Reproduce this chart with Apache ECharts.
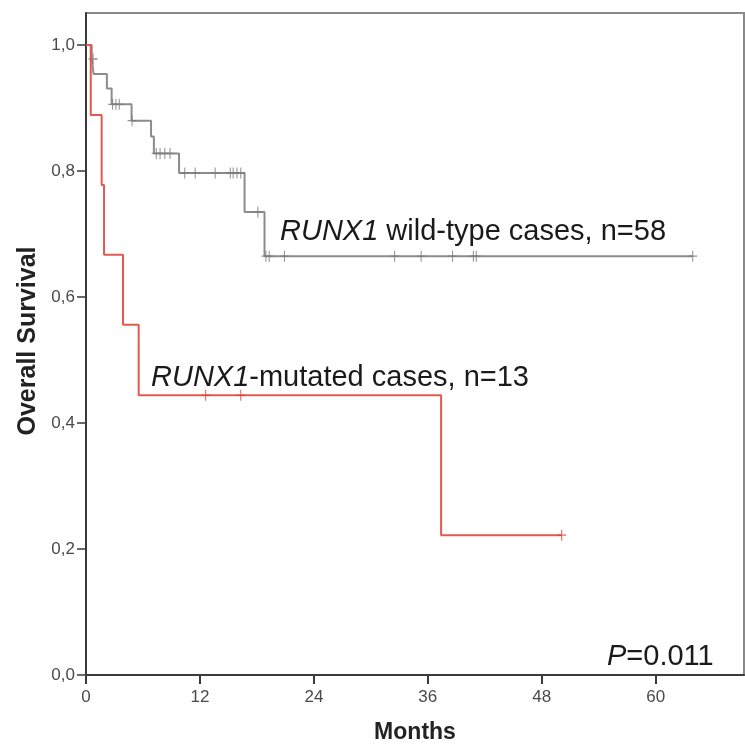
<!DOCTYPE html>
<html>
<head>
<meta charset="utf-8">
<script src="https://cdn.jsdelivr.net/npm/echarts@6/dist/echarts.min.js"></script>
<style>
html,body{margin:0;padding:0;background:#fff;}
#c{width:745px;height:746px;}
</style>
</head>
<body>
<div id="c"></div>
<script>
// Kaplan-Meier step points [month, survival]
const wildSteps = [[0,1],[0.6,0.978],[0.8,0.954],[2.2,0.931],[2.7,0.906],[4.8,0.880],[6.85,0.855],[7.15,0.828],[9.8,0.797],[16.7,0.735],[18.8,0.665],[63.9,0.665]];
const wildCensors = [[0.75,0.978],[2.8,0.906],[3.15,0.906],[3.5,0.906],[4.85,0.880],[7.4,0.828],[7.8,0.828],[8.3,0.828],[8.85,0.828],[10.4,0.797],[11.5,0.797],[13.6,0.797],[15.2,0.797],[15.5,0.797],[15.9,0.797],[16.3,0.797],[18.1,0.735],[18.95,0.665],[19.3,0.665],[20.9,0.665],[32.5,0.665],[35.3,0.665],[38.6,0.665],[40.8,0.665],[41.1,0.665],[63.9,0.665]];
const mutSteps = [[0,1],[0.5,0.889],[1.65,0.778],[1.9,0.667],[3.9,0.556],[5.55,0.444],[37.4,0.222],[50.1,0.222]];
const mutCensors = [[12.6,0.444],[16.3,0.444],[50.1,0.222]];
const xTicks = [0,12,24,36,48,60];
const yTicks = [0,0.2,0.4,0.6,0.8,1.0];

const plus = 'path://M4.4,0H5.6V10H4.4ZM0,4.4H10V5.6H0Z';
const chart = echarts.init(document.getElementById('c'), null, {renderer:'canvas'});
chart.setOption({
  backgroundColor:'#ffffff',
  animation:false,
  grid:{left:86,right:1,top:13,bottom:71,show:true,borderColor:'#8a8a8a',borderWidth:2,backgroundColor:'transparent'},
  xAxis:{type:'value',min:0,max:69.3,interval:12,
    axisLine:{lineStyle:{color:'#3a3a3a',width:2}},
    axisTick:{show:true,length:9,customValues:xTicks,lineStyle:{color:'#3a3a3a',width:2}},
    axisLabel:{customValues:xTicks,color:'#4a4a4a',fontSize:17,fontFamily:'Liberation Sans',margin:14},
    splitLine:{show:false}},
  yAxis:{type:'value',min:0,max:1.051,interval:0.2,
    axisLine:{show:true,lineStyle:{color:'#3a3a3a',width:2}},
    axisTick:{show:true,length:9,customValues:yTicks,lineStyle:{color:'#3a3a3a',width:1.5}},
    axisLabel:{customValues:yTicks,color:'#4a4a4a',fontSize:17,fontFamily:'Liberation Sans',margin:11,
      formatter:v=>v.toFixed(1).replace('.',',')},
    splitLine:{show:false}},
  series:[
    {type:'line',step:'end',data:wildSteps,showSymbol:false,symbol:'none',lineStyle:{color:'#8c8c8c',width:2},z:3},
    {type:'scatter',data:wildCensors,symbol:plus,symbolSize:[9,11],itemStyle:{color:'#7a7a7a'},z:4},
    {type:'line',step:'end',data:mutSteps,showSymbol:false,symbol:'none',lineStyle:{color:'#e05a52',width:2},z:5},
    {type:'scatter',data:mutCensors,symbol:plus,symbolSize:[9,11],itemStyle:{color:'#d9443c'},z:6}
  ],
  graphic:[
    {type:'text',x:280,y:232,style:{text:'{i|RUNX1} wild-type cases, n=58',fontSize:29,fontFamily:'Liberation Sans',fill:'#1a1a1a',verticalAlign:'middle',align:'left',
      rich:{i:{fontStyle:'italic',fontSize:29,fontFamily:'Liberation Sans',fill:'#1a1a1a'}}}},
    {type:'text',x:151,y:378,style:{text:'{i|RUNX1}-mutated cases, n=13',fontSize:29,fontFamily:'Liberation Sans',fill:'#1a1a1a',verticalAlign:'middle',align:'left',
      rich:{i:{fontStyle:'italic',fontSize:29,fontFamily:'Liberation Sans',fill:'#1a1a1a'}}}},
    {type:'text',x:607,y:657,style:{text:'{i|P}=0.011',fontSize:29,fontFamily:'Liberation Sans',fill:'#1a1a1a',verticalAlign:'middle',align:'left',
      rich:{i:{fontStyle:'italic',fontSize:29,fontFamily:'Liberation Sans',fill:'#1a1a1a'}}}},
    {type:'text',x:28,y:341,rotation:Math.PI/2,style:{text:'Overall Survival',fontSize:25,fontWeight:'bold',fontFamily:'Liberation Sans',fill:'#222',align:'center',verticalAlign:'middle'}},
    {type:'text',x:415,y:733,style:{text:'Months',fontSize:23,fontWeight:'bold',fontFamily:'Liberation Sans',fill:'#222',align:'center',verticalAlign:'middle'}}
  ]
});
</script>
</body>
</html>
